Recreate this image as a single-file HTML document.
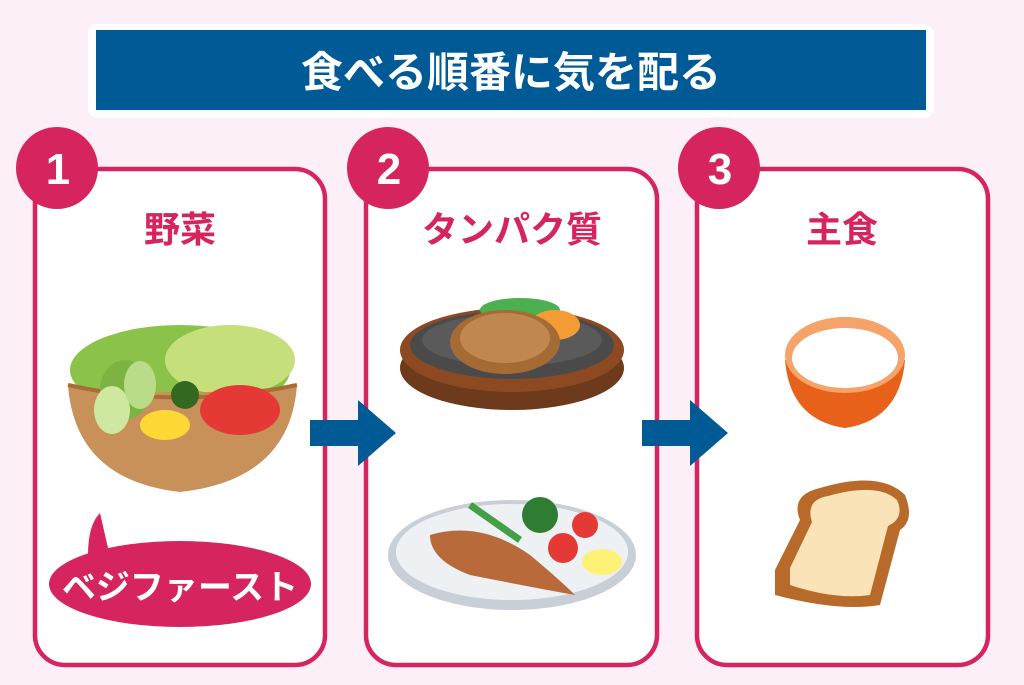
<!DOCTYPE html>
<html><head><meta charset="utf-8"><style>
html,body{margin:0;padding:0;background:#fdeff8;}
svg{display:block}
text{font-family:"Liberation Sans","Noto Sans CJK JP",sans-serif;font-weight:bold}
</style></head><body>
<svg width="1024" height="685" viewBox="0 0 1024 685">
<rect width="1024" height="685" fill="#fdeff8"/>
<rect x="88" y="24" width="846" height="94" rx="10" fill="#fff"/>
<rect x="96" y="30" width="830" height="80" fill="#005a96"/>
<text x="511" y="87" text-anchor="middle" font-size="42" fill="#fff">食べる順番に気を配る</text>

<g fill="#fff" stroke="#d6245f" stroke-width="4.5">
<rect x="35" y="169" width="290" height="496" rx="30"/>
<rect x="366" y="169" width="291" height="496" rx="30"/>
<rect x="697" y="169" width="291" height="496" rx="30"/>
</g>
<g fill="#d6245f">
<circle cx="57" cy="168" r="41"/><circle cx="388" cy="168" r="41"/><circle cx="719" cy="168" r="41"/>
</g>
<g fill="#fff" font-size="44" text-anchor="middle">
<text x="58" y="184">1</text><text x="389" y="184">2</text><text x="720" y="184">3</text>
</g>
<g fill="#d6245f" font-size="36" text-anchor="middle">
<text x="180" y="242">野菜</text><text x="512" y="242">タンパク質</text><text x="842" y="242">主食</text>
</g>

<g fill="#005a96">
<path d="M310 420h48v-20l38 33-38 33v-20h-48z"/>
<path d="M642 420h48v-20l38 33-38 33v-20h-48z"/>
</g>

<ellipse cx="180" cy="370" rx="110" ry="45" fill="#8bc34a"/>
<ellipse cx="230" cy="360" rx="65" ry="35" fill="#c5e07a"/>
<path d="M68 385 Q180 400 297 385 Q290 480 180 492 Q75 480 68 385z" fill="#c8915a"/>
<path d="M68 385 Q180 410 297 385" stroke="#a86c35" stroke-width="4" fill="none"/>
<ellipse cx="125" cy="390" rx="25" ry="30" fill="#7cb342"/>
<ellipse cx="112" cy="410" rx="18" ry="24" fill="#cfe8a0"/>
<ellipse cx="140" cy="385" rx="16" ry="24" fill="#b9dc88"/>
<ellipse cx="240" cy="410" rx="40" ry="25" fill="#e53935"/>
<ellipse cx="165" cy="425" rx="25" ry="15" fill="#fdd835"/>
<circle cx="185" cy="395" r="14" fill="#33691e"/>
<path d="M88 555 Q88 525 100 513 L108 548z" fill="#d6245f"/>
<ellipse cx="180" cy="584" rx="131" ry="43" fill="#d6245f"/>
<text x="180" y="599" text-anchor="middle" font-size="34" fill="#fff" font-weight="normal">ベジファースト</text>

<ellipse cx="512" cy="368" rx="112" ry="42" fill="#6d3a1c"/>
<ellipse cx="512" cy="350" rx="112" ry="42" fill="#8d4a22"/>
<ellipse cx="512" cy="345" rx="102" ry="34" fill="#4a4a4a"/>
<ellipse cx="512" cy="340" rx="90" ry="26" fill="#5a5a5a"/>
<ellipse cx="520" cy="310" rx="40" ry="12" fill="#4caf50"/>
<ellipse cx="555" cy="325" rx="25" ry="15" fill="#f39c35"/>
<ellipse cx="505" cy="342" rx="55" ry="32" fill="#a66a35"/>
<ellipse cx="505" cy="338" rx="45" ry="25" fill="#c08850"/>

<ellipse cx="512" cy="555" rx="124" ry="55" fill="#c8cfd6"/>
<ellipse cx="512" cy="552" rx="116" ry="48" fill="#eef1f4"/>
<path d="M430 535 Q480 520 530 555 Q560 580 575 595 Q520 585 470 575 Q430 560 430 535z" fill="#b86a3a"/>
<circle cx="540" cy="515" r="18" fill="#2e7d32"/>
<circle cx="585" cy="525" r="13" fill="#e53935"/>
<circle cx="563" cy="548" r="15" fill="#e53935"/>
<ellipse cx="602" cy="562" rx="20" ry="13" fill="#fff176"/>
<path d="M470 505 L520 540" stroke="#43a047" stroke-width="7"/>

<path d="M785 360 Q845 370 905 360 Q900 420 845 428 Q790 420 785 360z" fill="#e8611a"/>
<ellipse cx="845" cy="355" rx="60" ry="38" fill="#f6a36a"/>
<ellipse cx="845" cy="358" rx="53" ry="30" fill="#fff"/>
<path d="M775 570 L800 520 Q790 495 820 488 Q880 470 905 495 Q915 520 900 530 L880 605 Q840 612 775 595z" fill="#b86a2a"/>
<path d="M790 568 L812 522 Q805 500 828 496 Q878 482 897 500 Q905 518 888 526 L870 595 Q835 600 790 585z" fill="#fbe3b8"/>
</svg>
</body></html>
